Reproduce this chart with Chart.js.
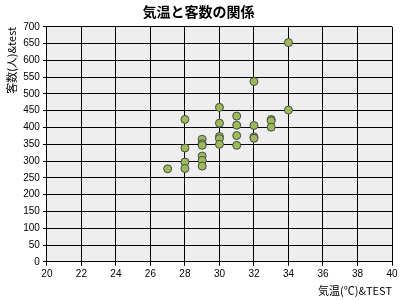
<!DOCTYPE html>
<html>
<head>
<meta charset="utf-8">
<script src="https://cdn.jsdelivr.net/npm/chart.js@4"></script>
<style>
  html, body { margin: 0; padding: 0; background: #fff; }
</style>
</head>
<body>
<canvas id="graficoDispersion" width="400" height="300"></canvas>
<script>
const temperaturas = [27, 28, 28, 28, 28, 29, 29, 29, 29, 29, 29, 30, 30, 30, 30, 30, 31, 31, 31, 31, 32, 32, 32, 32, 33, 33, 33, 34, 34];
const clientes = [277, 424, 339, 297, 278, 365, 352, 347, 315, 302, 285, 460, 413, 373, 367, 350, 434, 407, 376, 347, 537, 406, 372, 368, 424, 420, 401, 653, 452];
const ticksX = {min: 20, max: 40, step: 2};
const ticksY = {min: 0, max: 700, step: 50};

const puntos = temperaturas.map((t, i) => ({x: t, y: clientes[i]}));

const fondoArea = {
  id: 'fondoArea',
  beforeDraw(chart) {
    const {ctx, chartArea: a} = chart;
    ctx.save();
    ctx.fillStyle = '#eeeeee';
    ctx.fillRect(a.left, a.top, a.right - a.left, a.bottom - a.top);
    ctx.restore();
  }
};

const fuente = "'Liberation Sans', Arial, sans-serif";
const fuenteJP = "'Noto Sans CJK JP', sans-serif";

new Chart(document.getElementById('graficoDispersion'), {
  type: 'scatter',
  data: {
    datasets: [{
      label: '客数',
      data: puntos,
      backgroundColor: '#9bbb59',
      borderColor: '#4a4a4a',
      borderWidth: 1,
      pointRadius: 4,
      pointHoverRadius: 4
    }]
  },
  options: {
    responsive: false,
    animation: false,
    layout: {padding: {left: 5, right: 8, top: 0, bottom: 3}},
    plugins: {
      legend: {display: false},
      tooltip: {enabled: false},
      title: {
        display: true,
        text: '気温と客数の関係',
        color: '#000',
        font: {size: 14, weight: 'bold', family: fuenteJP},
        padding: {top: 3, bottom: 7}
      }
    },
    scales: {
      x: {
        type: 'linear',
        min: ticksX.min,
        max: ticksX.max,
        ticks: {stepSize: ticksX.step, autoSkip: false, color: '#000', font: {size: 10, family: fuente}, padding: 2, maxRotation: 0},
        grid: {color: '#000', lineWidth: 1, tickLength: 4, tickColor: '#000'},
        border: {color: '#000', width: 1},
        title: {display: true, text: '気温(℃)&TEST', align: 'end', color: '#000', font: {size: 11, family: fuenteJP}, padding: {top: 2, bottom: 0}}
      },
      y: {
        type: 'linear',
        min: ticksY.min,
        max: ticksY.max,
        ticks: {stepSize: ticksY.step, autoSkip: false, color: '#000', font: {size: 10, family: fuente}, padding: 3},
        grid: {color: '#000', lineWidth: 1, tickLength: 4, tickColor: '#000'},
        border: {color: '#000', width: 1},
        title: {display: true, text: '客数(人)&test', align: 'end', color: '#000', font: {size: 11, family: fuenteJP}, padding: {top: 0, bottom: 2}}
      }
    }
  },
  plugins: [fondoArea]
});
</script>
</body>
</html>
